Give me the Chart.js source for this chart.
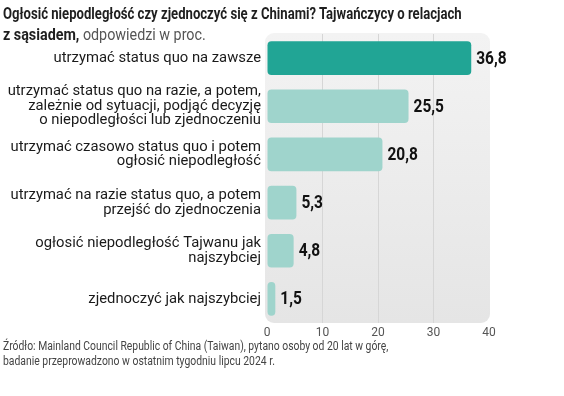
<!DOCTYPE html>
<html>
<head>
<meta charset="utf-8">
<script src="https://cdn.jsdelivr.net/npm/chart.js@4"></script>
<style>
  html, body { margin: 0; padding: 0; background: #fff; }
  #wrap { position: relative; width: 564px; height: 396px; overflow: hidden; }
  canvas { position: absolute; left: 0; top: 0; }
  .txt { position: absolute; left: 3px; white-space: nowrap; transform-origin: left center; font-family: Roboto, sans-serif; }
  #t1 { top: 4px; font-size: 16px; font-weight: 700; color: #1f1f1f; }
  #t2 { top: 25px; font-size: 16px; color: #555; }
  #t2 b { color: #1f1f1f; }
  #f1 { top: 339px; font-size: 12px; color: #444; }
  #f2 { top: 354px; font-size: 12px; color: #444; }
</style>
</head>
<body>
<div id="wrap">
  <canvas id="chart" width="564" height="396"></canvas>
  <div class="txt" id="t1">Ogłosić niepodległość czy zjednoczyć się z Chinami? Tajwańczycy o relacjach</div>
  <div class="txt" id="t2"><b>z sąsiadem,</b> odpowiedzi w proc.</div>
  <div class="txt" id="f1">Źródło: Mainland Council Republic of China (Taiwan), pytano osoby od 20 lat w górę,</div>
  <div class="txt" id="f2">badanie przeprowadzono w ostatnim tygodniu lipcu 2024 r.</div>
</div>
<script>
// answers (y axis), multi-line labels
const categories = [
    ['utrzymać status quo na zawsze'],
    ['utrzymać status quo na razie, a potem,', 'zależnie od sytuacji, podjąć decyzję', 'o niepodległości lub zjednoczeniu'],
    ['utrzymać czasowo status quo i potem', 'ogłosić niepodległość'],
    ['utrzymać na razie status quo, a potem', 'przejść do zjednoczenia'],
    ['ogłosić niepodległość Tajwanu jak', 'najszybciej'],
    ['zjednoczyć jak najszybciej']
];
const values = [36.8, 25.5, 20.8, 5.3, 4.8, 1.5];
const xTicks = [0, 10, 20, 30, 40];

const dark = '#21a595';
const light = '#9fd4cc';

// squeeze the condensed-looking header lines to the widths in the original
const fitText = (id, w) => {
    const el = document.getElementById(id);
    const k = w / el.offsetWidth;
    el.style.transform = 'scaleX(' + k + ')';
};
fitText('t1', 459);
fitText('t2', 203);
fitText('f1', 385);
fitText('f2', 272);

const panelBg = {
    id: 'panelBg',
    beforeDraw(chart) {
        const { ctx, chartArea: a } = chart;
        const g = ctx.createLinearGradient(0, a.top, 0, a.bottom);
        g.addColorStop(0, '#f3f3f3');
        g.addColorStop(1, '#e5e5e5');
        ctx.save();
        ctx.fillStyle = g;
        ctx.beginPath();
        ctx.roundRect(a.left - 2, a.top - 1, a.right - a.left + 3, a.bottom - a.top + 1, 9);
        ctx.fill();
        ctx.restore();
    }
};

const valueLabels = {
    id: 'valueLabels',
    afterDatasetsDraw(chart) {
        const { ctx } = chart;
        const meta = chart.getDatasetMeta(0);
        ctx.save();
        ctx.font = 'bold 18px Roboto, sans-serif';
        ctx.fillStyle = '#111';
        ctx.textBaseline = 'middle';
        meta.data.forEach((bar, i) => {
            const txt = values[i].toFixed(1).replace('.', ',');
            const w = ctx.measureText(txt).width;
            ctx.fillText(txt, bar.x + 5, bar.y + 1, w * 0.86);
        });
        ctx.restore();
    }
};

const ctx = document.getElementById('chart').getContext('2d');
new Chart(ctx, {
    type: 'bar',
    data: {
        labels: categories,
        datasets: [{
            data: values,
            backgroundColor: values.map((v, i) => i === 0 ? dark : light),
            borderRadius: 4,
            borderSkipped: false,
            barPercentage: 0.7,
            categoryPercentage: 1
        }]
    },
    options: {
        indexAxis: 'y',
        responsive: false,
        animation: false,
        layout: { padding: { top: 34, right: 75, left: 0, bottom: 0 } },
        plugins: { legend: { display: false }, tooltip: { enabled: false } },
        scales: {
            x: {
                min: 0,
                max: 40,
                afterBuildTicks: (s) => { s.ticks = xTicks.map(v => ({ value: v })); },
                afterFit: (s) => { s.height = 73; },
                border: { display: false },
                grid: {
                    drawTicks: false,
                    color: (c) => (c.tick && (c.tick.value === 0 || c.tick.value === 40)) ? 'rgba(0,0,0,0)' : '#d6d6d6'
                },
                ticks: { padding: 3, color: '#555', font: { family: 'Roboto', size: 12 } }
            },
            y: {
                afterFit: (s) => { s.width = 267; },
                border: { display: false },
                grid: { display: false, drawTicks: false },
                ticks: {
                    padding: 6,
                    color: '#1a1a1a',
                    font: { family: 'Roboto', size: 14.8, lineHeight: 0.98 }
                }
            }
        }
    },
    plugins: [panelBg, valueLabels]
});
</script>
</body>
</html>
